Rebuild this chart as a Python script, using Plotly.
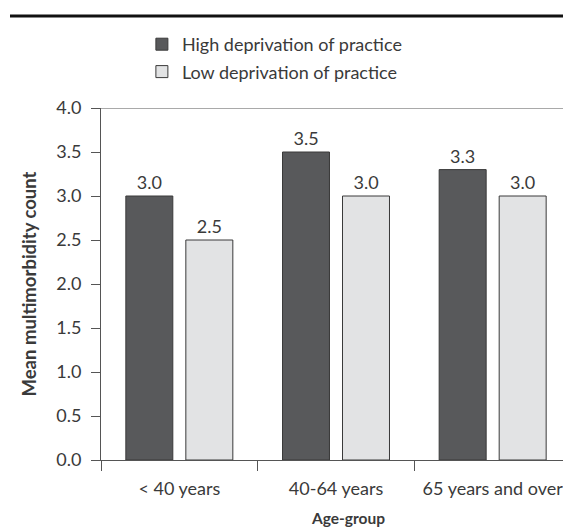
import plotly.graph_objects as go

categories = ["< 40 years", "40-64 years", "65 years and over"]
high_dep = [3.0, 3.5, 3.3]
low_dep = [2.5, 3.0, 3.0]
series_names = ["High deprivation of practice", "Low deprivation of practice"]
y_ticks = [0.0, 0.5, 1.0, 1.5, 2.0, 2.5, 3.0, 3.5, 4.0]
x_title = "Age-group"
y_title = "Mean multimorbidity count"

FONT = "Lato"
AX = "#555555"
TXT = "#3a3a3a"
FS = 18

fig = go.Figure()
fig.add_trace(go.Bar(
    x=categories, y=high_dep, name=series_names[0], legendgroup="a",
    marker=dict(color="#58595b", line=dict(color="#3a3a3a", width=1)),
    texttemplate="%{y:.1f}", textposition="outside",
    textfont=dict(size=FS, color=TXT, family=FONT), cliponaxis=False,
))
fig.add_trace(go.Bar(
    x=categories, y=low_dep, name=series_names[1], legendgroup="b",
    marker=dict(color="#e2e3e4", line=dict(color="#3a3a3a", width=1)),
    texttemplate="%{y:.1f}", textposition="outside",
    textfont=dict(size=FS, color=TXT, family=FONT), cliponaxis=False,
))

W, H = 563, 522
ML, MR, MT, MB = 93, 0, 100, 70
PW = W - ML - MR
PH = H - MT - MB

# page has an 8px body margin; compensate so the plot sits where the reference has it
fig.update_layout(
    width=W, height=H,
    margin=dict(l=ML, r=MR, t=MT, b=MB),
    paper_bgcolor="white", plot_bgcolor="white",
    barmode="group", bargap=0.234, bargroupgap=0.217,
    font=dict(family=FONT, size=FS, color=TXT),
    showlegend=True,
    legend=dict(
        orientation="v", x=0.087, xanchor="left", y=1 + 82 / PH, yanchor="top",
        font=dict(size=FS, color=TXT, family=FONT),
        bgcolor="rgba(0,0,0,0)", tracegroupgap=1, traceorder="grouped",
    ),
    xaxis=dict(
        type="category", range=[-0.5, 2.5], tickson="boundaries",
        ticks="outside", ticklen=10, tickwidth=1, tickcolor=AX,
        showline=True, linecolor=AX, linewidth=1, showgrid=False,
        tickfont=dict(size=FS, color=TXT, family=FONT), ticklabelstandoff=12,
        fixedrange=True,
    ),
    yaxis=dict(
        range=[0, 4.0], tickvals=y_ticks, ticktext=[f"{v:.1f}" for v in y_ticks],
        ticks="outside", ticklen=9, tickwidth=1, tickcolor=AX,
        showline=True, linecolor=AX, linewidth=1, showgrid=False, zeroline=False,
        tickfont=dict(size=FS, color=TXT, family=FONT), ticklabelstandoff=6,
        title=dict(text=f"<b>{y_title}</b>", font=dict(size=18.5, color=TXT, family=FONT), standoff=14),
        fixedrange=True,
    ),
    annotations=[dict(
        text=f"<b>{x_title}</b>", xref="paper", yref="paper",
        x=(348 - 101) / PW, y=-(518 - 460) / PH, xanchor="center", yanchor="middle",
        showarrow=False, font=dict(size=15.5, color=TXT, family=FONT),
    )],
)

# top line at 4.0 extending over the tick area
fig.add_shape(type="line", xref="paper", yref="y", x0=-9 / PW, x1=1, y0=4.0, y1=4.0,
              line=dict(color=AX, width=1))
# heavy rule beneath the (cropped) title
fig.add_shape(type="line", xref="paper", yref="paper", x0=-91 / PW, x1=1.01,
              y0=1 + (108 - 16) / PH, y1=1 + (108 - 16) / PH,
              line=dict(color="#111111", width=3))

fig.write_html("out.html")
